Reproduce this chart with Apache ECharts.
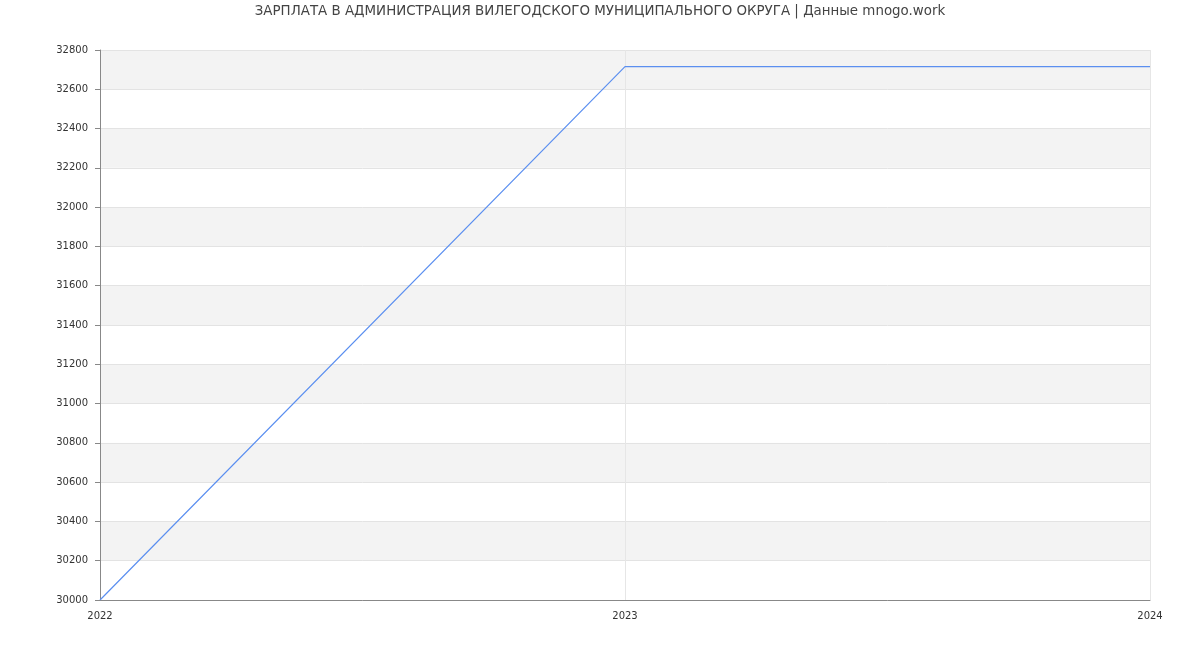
<!DOCTYPE html>
<html>
<head>
<meta charset="utf-8">
<script src="https://cdn.jsdelivr.net/npm/echarts@6/dist/echarts.min.js"></script>
<style>html,body{margin:0;padding:0;background:#fff}#c{width:1200px;height:650px}</style>
</head>
<body>
<div id="c"></div>
<script>
const titleText = 'ЗАРПЛАТА В АДМИНИСТРАЦИЯ ВИЛЕГОДСКОГО МУНИЦИПАЛЬНОГО ОКРУГА | Данные mnogo.work';
const years = ['2022', '2023', '2024'];
const salary = [30000, 32715, 32715];
const yMin = 30000, yMax = 32800, yStep = 200;

const chart = echarts.init(document.getElementById('c'), null, {renderer: 'canvas'});
chart.setOption({
  animation: false,
  backgroundColor: '#fff',
  textStyle: {fontFamily: 'DejaVu Sans'},
  title: {
    text: titleText, left: 'center', top: 0,
    textStyle: {fontFamily: 'DejaVu Sans', fontSize: 13.4, fontWeight: 'normal', color: '#444'}
  },
  grid: {left: 100, right: 50, top: 50, bottom: 50, containLabel: false},
  xAxis: {
    type: 'category', data: years, boundaryGap: false,
    axisLine: {lineStyle: {color: '#888'}},
    axisTick: {show: false},
    axisLabel: {color: '#333', fontSize: 10, margin: 11, fontFamily: 'DejaVu Sans'},
    splitLine: {show: true, lineStyle: {color: '#e6e6e6'}}
  },
  yAxis: {
    type: 'value', min: yMin, max: yMax, interval: yStep,
    axisLine: {show: true, lineStyle: {color: '#888'}},
    axisTick: {show: true, length: 5, lineStyle: {color: '#888'}},
    axisLabel: {color: '#333', fontSize: 10, margin: 12, fontFamily: 'DejaVu Sans',
      formatter: v => String(v)},
    splitLine: {show: true, lineStyle: {color: '#e3e3e3'}},
    splitArea: {show: true, areaStyle: {color: ['#ffffff', '#f3f3f3']}}
  },
  series: [{
    type: 'line', data: salary, symbol: 'none',
    lineStyle: {color: '#5b8ff0', width: 1.2}
  }]
});
</script>
</body>
</html>
